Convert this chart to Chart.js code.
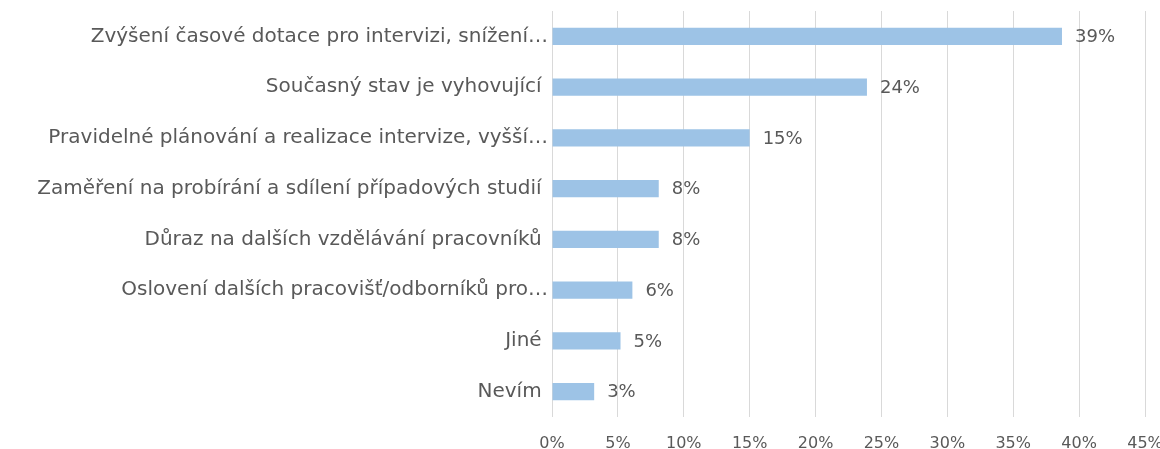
<!DOCTYPE html>
<html>
<head>
<meta charset="utf-8">
<script src="https://cdn.jsdelivr.net/npm/chart.js@4/dist/chart.umd.min.js"></script>
<style>
    body { margin: 0; background: #fff; }
    #wrap { width: 1160px; height: 449px; }
</style>
</head>
<body>
<div id="wrap"><canvas id="barChart"></canvas></div>
<script>
const categories = [
    'Zvýšení časové dotace pro intervizi, snížení…',
    'Současný stav je vyhovující ',
    'Pravidelné plánování a realizace intervize, vyšší…',
    'Zaměření na probírání a sdílení případových studií ',
    'Důraz na dalších vzdělávání pracovníků ',
    'Oslovení dalších pracovišť/odborníků pro…',
    'Jiné ',
    'Nevím '
];
const shares = [38.7, 23.9, 15.0, 8.1, 8.1, 6.1, 5.2, 3.2];
const shareLabels = ['39%', '24%', '15%', '8%', '8%', '6%', '5%', '3%'];

const fontFamily = '"DejaVu Sans", sans-serif';
const textColor = '#595959';

// draw the value next to each bar
const valueLabels = {
    id: 'valueLabels',
    afterDatasetsDraw(chart) {
        const ctx = chart.ctx;
        const meta = chart.getDatasetMeta(0);
        ctx.save();
        ctx.font = '18px ' + fontFamily;
        ctx.fillStyle = textColor;
        ctx.textAlign = 'left';
        ctx.textBaseline = 'middle';
        meta.data.forEach((bar, i) => {
            ctx.fillText(shareLabels[i], bar.x + 13, bar.y + 1);
        });
        ctx.restore();
    }
};

const ctx = document.getElementById('barChart').getContext('2d');
const barChart = new Chart(ctx, {
    type: 'bar',
    data: {
        labels: categories,
        datasets: [{
            data: shares,
            backgroundColor: '#9dc3e6',
            barPercentage: 0.67,
            categoryPercentage: 0.5
        }]
    },
    options: {
        indexAxis: 'y',
        responsive: true,
        maintainAspectRatio: false,
        animation: false,
        layout: { padding: { top: 11, right: 0 } },
        plugins: {
            legend: { display: false },
            tooltip: { enabled: false }
        },
        scales: {
            x: {
                min: 0,
                max: 45,
                ticks: {
                    stepSize: 5,
                    color: textColor,
                    font: { family: fontFamily, size: 16 },
                    padding: 17,
                    callback: value => value + '%'
                },
                grid: { color: '#d9d9d9', drawTicks: false },
                border: { display: false },
                afterFit: scale => {
                    scale.height = 32;
                    scale.paddingRight = 15;
                }
            },
            y: {
                ticks: {
                    color: textColor,
                    font: { family: fontFamily, size: 20 },
                    padding: 4,
                    autoSkip: false
                },
                grid: { display: false, drawTicks: false },
                border: { display: false },
                afterFit: scale => {
                    scale.width = 552;
                    scale.paddingTop = 0;
                    scale.paddingBottom = 0;
                }
            }
        }
    },
    plugins: [valueLabels]
});
</script>
</body>
</html>
